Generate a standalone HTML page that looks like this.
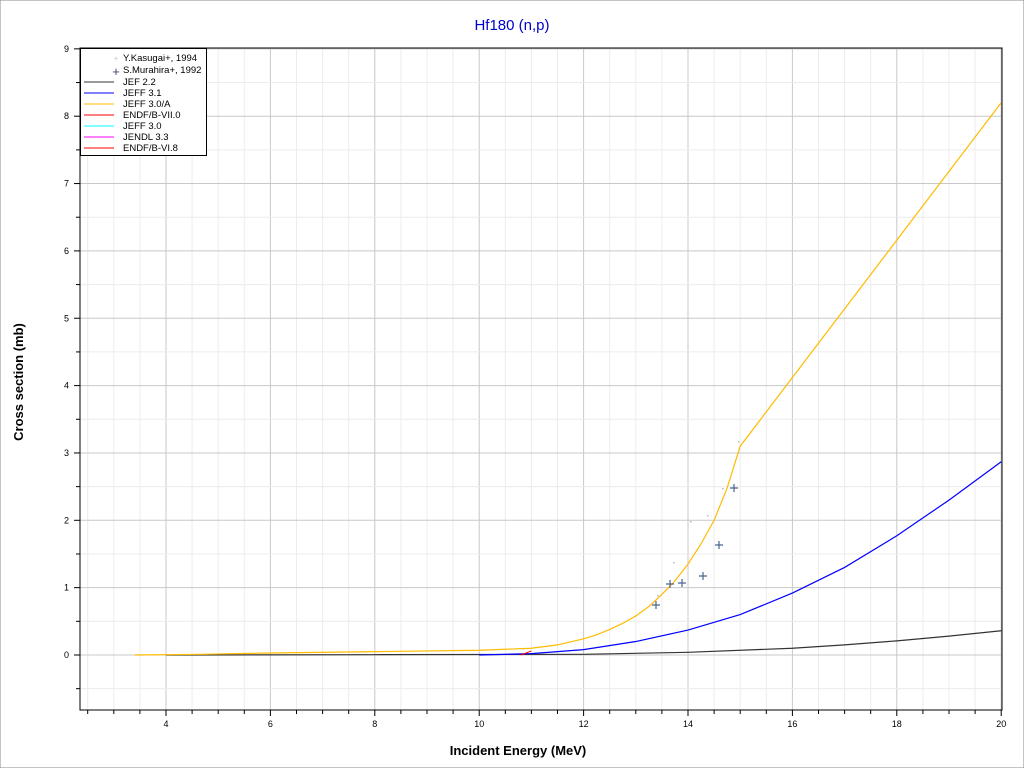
<!DOCTYPE html><html><head><style>body{margin:0;background:#fff}svg{display:block}text{font-family:"Liberation Sans",sans-serif}</style></head><body>
<svg width="1024" height="768" xmlns="http://www.w3.org/2000/svg">
<rect x="0" y="0" width="1024" height="768" fill="#fff" stroke="#888"/>
<text x="512" y="30" text-anchor="middle" font-size="15" fill="#0000cc">Hf180 (n,p)</text>
<g id="grid"></g>
<rect x="80" y="48" width="922" height="662" fill="none" stroke="#000"/>
<text x="518" y="755" text-anchor="middle" font-size="13" font-weight="bold">Incident Energy (MeV)</text>
<text transform="translate(23,382) rotate(-90)" text-anchor="middle" font-size="13" font-weight="bold">Cross section (mb)</text>
<g id="ax" font-size="9"></g>
<g id="curves"></g>
<g transform="translate(80,48)">
<rect x="0.5" y="0.5" width="126" height="107" fill="#fff" stroke="#000"/>
<g font-size="9.5">
<text x="36" y="13" fill="#ccc" font-size="8" text-anchor="middle">+</text><text x="43" y="13">Y.Kasugai+, 1994</text>
<text x="36" y="28" fill="#446" font-size="13" text-anchor="middle">+</text><text x="43" y="25">S.Murahira+, 1992</text>
<line x1="4" y1="34" x2="34" y2="34" stroke="#333"/><text x="43" y="37">JEF 2.2</text>
<line x1="4" y1="45" x2="34" y2="45" stroke="#00f"/><text x="43" y="48">JEFF 3.1</text>
<line x1="4" y1="56" x2="34" y2="56" stroke="#fb0"/><text x="43" y="59">JEFF 3.0/A</text>
<line x1="4" y1="67" x2="34" y2="67" stroke="#f00"/><text x="43" y="70">ENDF/B-VII.0</text>
<line x1="4" y1="78" x2="34" y2="78" stroke="#0ff"/><text x="43" y="81">JEFF 3.0</text>
<line x1="4" y1="89" x2="34" y2="89" stroke="#f0f"/><text x="43" y="92">JENDL 3.3</text>
<line x1="4" y1="100" x2="34" y2="100" stroke="#f00"/><text x="43" y="103">ENDF/B-VI.8</text>
</g></g>
<script>
const X=e=>166+(e-4)*52.2, Y=v=>655-v*67.35, ns="http://www.w3.org/2000/svg";
function el(p,t,a,txt){const e=document.createElementNS(ns,t);for(const k in a)e.setAttribute(k,a[k]);if(txt!=null)e.textContent=txt;document.getElementById(p).appendChild(e);return e;}
for(let e=2.5;e<=20;e+=0.5){const x=X(e);if(x<=80)continue;const maj=Math.abs(e%2)<1e-6;el("grid","line",{x1:x,y1:48,x2:x,y2:710,stroke:maj?"#c8c8c8":"#ececec"});el("ax","line",{x1:x,y1:710,x2:x,y2:maj?716:714,stroke:"#000"});if(maj)el("ax","text",{x:x,y:727,"text-anchor":"middle"},e);}
for(let v=-0.5;v<=9;v+=0.5){const y=Y(v);const maj=Math.abs(v%1)<1e-6;el("grid","line",{x1:80,y1:y,x2:1002,y2:y,stroke:maj?"#c8c8c8":"#ececec"});el("ax","line",{x1:maj?74:76,y1:y,x2:80,y2:y,stroke:"#000"});if(maj)el("ax","text",{x:69,y:y+3,"text-anchor":"end"},v);}
function poly(pts,c,w){el("curves","polyline",{points:pts.map(p=>X(p[0])+","+Y(p[1])).join(" "),fill:"none",stroke:c,"stroke-width":w||1.2});}
poly([[4,0],[8,0.005],[12,0.01],[14,0.04],[16,0.1],[17,0.15],[18,0.21],[19,0.28],[20,0.36]],"#333");
poly([[10,0],[11,0.02],[12,0.08],[13,0.2],[14,0.37],[15,0.6],[16,0.92],[17,1.3],[18,1.77],[19,2.3],[20,2.87]],"#00f");
poly([[3.4,0],[4.7,0.01],[6,0.03],[8,0.05],[10,0.07],[11,0.1],[11.5,0.15],[12,0.24],[12.25,0.3],[12.5,0.38],[12.75,0.47],[13,0.58],[13.25,0.72],[13.5,0.9],[13.75,1.1],[14,1.35],[14.25,1.65],[14.5,2.0],[14.75,2.48],[15,3.1],[17.5,5.65],[20,8.2]],"#fb0");
poly([[10.8,0],[11,0.06]],"#f00",1);
[[656,605],[670,584],[682,583],[703,576],[719,545],[734,488]].forEach(p=>{el("curves","path",{d:`M${p[0]-4} ${p[1]}h8M${p[0]} ${p[1]-4}v8`,stroke:"#4a6690","stroke-width":1.2});});
[[657,595],[673,562],[690,521],[707,515],[722,488],[738,441]].forEach(p=>el("curves","rect",{x:p[0],y:p[1],width:1.5,height:1.5,fill:"#bbb"}));
</script>
</svg></body></html>
